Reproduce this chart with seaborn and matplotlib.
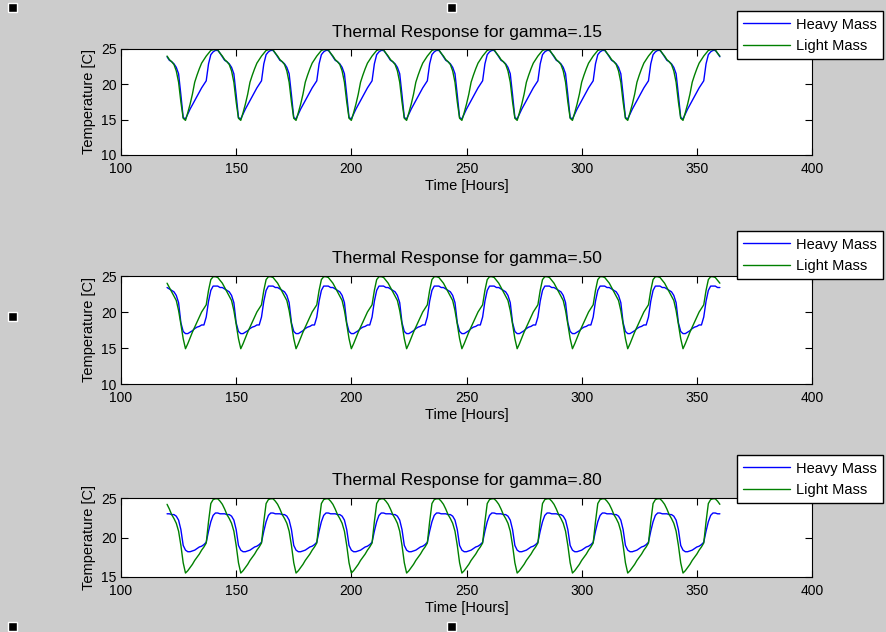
import numpy as np
import pandas as pd
import seaborn as sns
import matplotlib.pyplot as plt
from matplotlib.patches import Rectangle

# hourly readings over one 24 h day (start at hour 120); the trace repeats every day
hours = np.arange(120, 361)

heavy_15 = [23.9, 23.4, 23.2, 22.9, 22.4, 21.5, 18.5, 15.3, 15.1, 15.8, 16.5, 17.1,
            17.7, 18.3, 18.9, 19.5, 20.0, 20.5, 22.9, 24.2, 24.6, 24.8, 24.8, 24.4]
light_15 = [24.0, 23.5, 23.2, 22.8, 21.9, 20.3, 17.5, 15.2, 14.9, 16.0, 17.2, 18.6,
            20.3, 21.3, 22.2, 23.0, 23.5, 24.0, 24.4, 24.8, 24.9, 24.9, 24.9, 24.4]

heavy_50 = [23.4, 23.2, 23.0, 22.8, 22.3, 21.3, 18.5, 17.3, 17.0, 17.0, 17.2, 17.4,
            17.7, 17.9, 18.0, 18.2, 18.2, 19.3, 21.5, 23.0, 23.6, 23.6, 23.6, 23.4]
light_50 = [24.0, 23.4, 22.8, 22.2, 21.6, 20.2, 18.3, 16.3, 14.9, 15.6, 16.4, 17.2,
            17.9, 18.6, 19.3, 20.0, 20.5, 21.0, 23.0, 24.5, 24.9, 24.9, 24.8, 24.4]

heavy_80 = [23.0, 23.0, 22.9, 22.9, 22.7, 22.2, 21.0, 19.0, 18.4, 18.2, 18.2, 18.3,
            18.4, 18.6, 18.8, 18.9, 19.1, 19.4, 20.8, 22.0, 22.8, 23.1, 23.1, 23.0]
light_80 = [24.2, 23.6, 22.9, 22.4, 21.8, 20.8, 19.0, 16.8, 15.5, 15.8, 16.2, 16.6,
            17.1, 17.5, 17.9, 18.4, 18.8, 19.3, 22.0, 24.3, 24.8, 24.9, 24.9, 24.6]

titles = ['Thermal Response for gamma=.15', 'Thermal Response for gamma=.50',
          'Thermal Response for gamma=.80']
ylims = [(10, 25), (10, 25), (15, 25)]
yticks = [[10, 15, 20, 25], [10, 15, 20, 25], [15, 20, 25]]
xticks = [100, 150, 200, 250, 300, 350, 400]


def full_trace(day):
    vals = list(day) * 10 + [day[0]]
    return np.array(vals)


sns.set_style("ticks")
plt.rcParams['font.family'] = ['Liberation Sans', 'DejaVu Sans']
plt.rcParams['text.color'] = 'black'
plt.rcParams['axes.labelcolor'] = 'black'
plt.rcParams['xtick.color'] = 'black'
plt.rcParams['ytick.color'] = 'black'

W, H = 886, 632
fig = plt.figure(figsize=(W / 100, H / 100), dpi=100, facecolor='#cccccc')

# axes boxes in pixels: (top, bottom)
boxes = [(49, 155), (276, 384), (498, 577)]
legend_tops = [11, 231, 455]
pairs = [(heavy_15, light_15), (heavy_50, light_50), (heavy_80, light_80)]
palette = {'Heavy Mass': '#0000ff', 'Light Mass': '#008000'}

for i, (heavy, light) in enumerate(pairs):
    top, bot = boxes[i]
    ax = fig.add_axes([121 / W, 1 - bot / H, 691 / W, (bot - top) / H])
    df = pd.DataFrame({
        'Time': np.concatenate([hours, hours]),
        'Temp': np.concatenate([full_trace(heavy), full_trace(light)]),
        'Series': ['Heavy Mass'] * len(hours) + ['Light Mass'] * len(hours),
    })
    sns.lineplot(data=df, x='Time', y='Temp', hue='Series', palette=palette,
                 linewidth=1.0, ax=ax)
    ax.set_xlim(100, 400)
    ax.set_ylim(*ylims[i])
    ax.set_xticks(xticks)
    ax.set_yticks(yticks[i])
    ax.tick_params(direction='in', top=True, right=True, length=5, width=0.8,
                   labelsize=10, colors='black')
    ax.tick_params(axis='x', pad=5)
    ax.tick_params(axis='y', pad=3)
    for s in ax.spines.values():
        s.set_visible(True)
        s.set_color('black')
        s.set_linewidth(0.8)
    ax.set_facecolor('white')
    ax.set_title(titles[i], fontsize=12.5, pad=9, color='black')
    ax.set_xlabel('Time [Hours]', fontsize=10.5, labelpad=2)
    ax.set_ylabel('Temperature [C]', fontsize=10.5, labelpad=4)
    ax.legend(loc='upper right', bbox_to_anchor=(883 / W, 1 - legend_tops[i] / H),
              bbox_transform=fig.transFigure, fontsize=10.5, frameon=True,
              fancybox=False, edgecolor='black', framealpha=1, borderaxespad=0,
              handlelength=3.2, handletextpad=0.4, labelspacing=0.5,
              borderpad=0.45)

# figure selection handles
for (x, y) in [(8, 3), (447, 3), (8, 312), (8, 622), (447, 622)]:
    fig.patches.append(Rectangle((x / W, 1 - (y + 9) / H), 9 / W, 9 / H,
                                 transform=fig.transFigure, facecolor='black',
                                 edgecolor='white', linewidth=1))

fig.savefig('out.png', dpi=100, facecolor=fig.get_facecolor())
